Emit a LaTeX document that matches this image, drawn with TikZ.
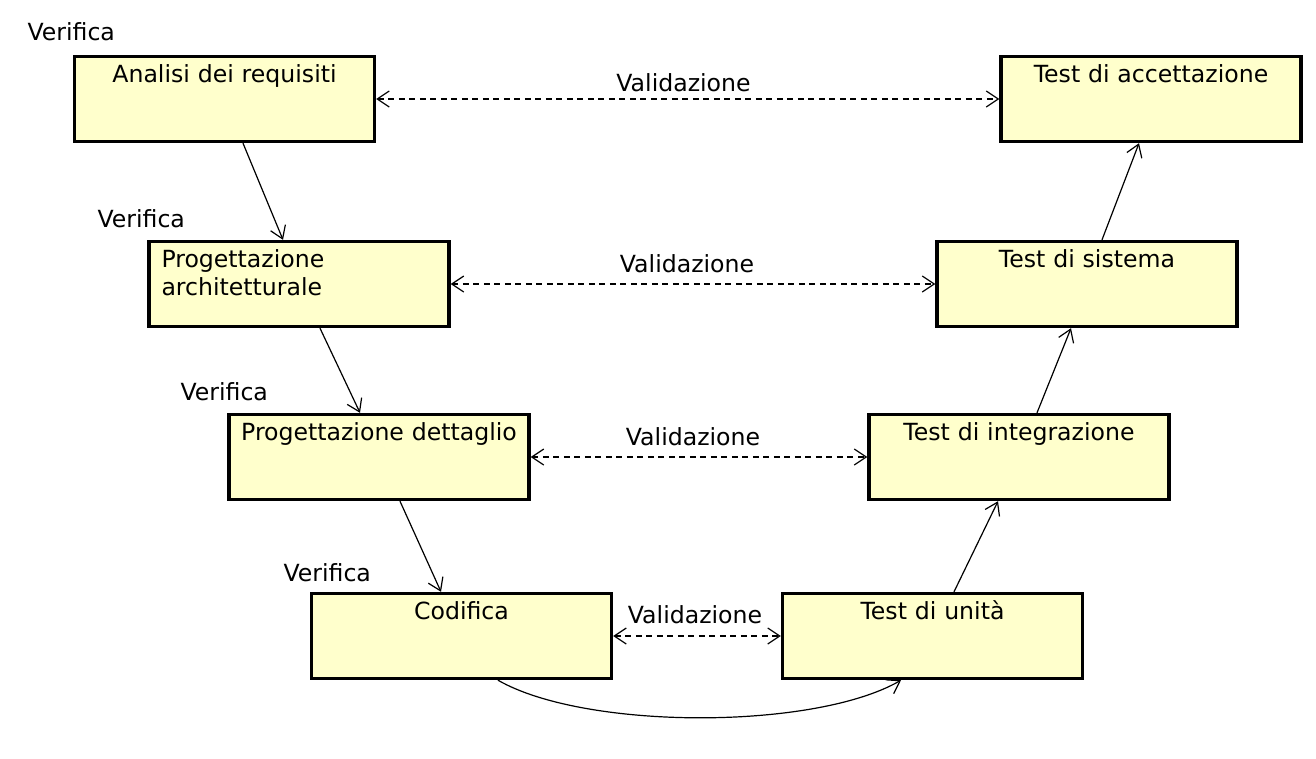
\documentclass[tikz,border=0pt]{standalone}
\usepackage{fontspec}
\setmainfont{DejaVu Sans}
\usetikzlibrary{arrows.meta, positioning}
\definecolor{phaseyellow}{RGB}{255,255,204}
\tikzset{
        flow/.style={-{Straight Barb[length=12pt,width=16pt]}, line width=1.2pt}, % verifica arrows
        valid/.style={{Straight Barb[length=12pt,width=16pt]}-{Straight Barb[length=12pt,width=16pt]},
                      line width=1.2pt, dash pattern=on 6pt off 4.5pt}, % validazione arrows
        vlabel/.style={anchor=base west},
        mlabel/.style={anchor=base},
    }
\tikzstyle{phase}=[draw, line width=3.4pt, fill=phaseyellow, minimum width=300pt, minimum height=85pt,
    inner xsep=5pt, inner ysep=0pt, text width=290pt, text height=26pt, text depth=59pt, align=center]

\begin{document}
\begin{tikzpicture}[x=1pt, y=-1pt, every node/.style={font=\fontsize{23.6pt}{28pt}\selectfont}]
    \useasboundingbox (0,0) rectangle (1316,758);
    % left branch
    \node[phase] (req) at (224.5,99) {Analisi dei requisiti};
    \node[phase, align=left, inner xsep=12.5pt, text width=275pt] (arch) at (299,284) {Progettazione\\architetturale};
    \node[phase] (det) at (379,457) {Progettazione dettaglio};
    \node[phase] (cod) at (461.5,636) {Codifica};
    % right branch
    \node[phase] (acc) at (1151,99) {Test di accettazione};
    \node[phase] (sys) at (1087,284) {Test di sistema};
    \node[phase] (integ) at (1019,457) {Test di integrazione};
    \node[phase] (unit) at (932.5,636) {Test di unità};

    \node[vlabel] (ver1) at (24,40.5) {Verifica};
    \node[vlabel] (ver2) at (94,227.5) {Verifica};
    \node[vlabel] (ver3) at (177,400.5) {Verifica};
    \node[vlabel] (ver4) at (280,581.5) {Verifica};

    \draw[flow] ([xshift=18.5pt]req.south) -- ([xshift=-16pt]arch.north);
    \draw[flow] ([xshift=21pt]arch.south) -- ([xshift=-19pt]det.north);
    \draw[flow] ([xshift=21pt]det.south) -- ([xshift=-20.5pt]cod.north);
    \draw[flow] ([xshift=36.5pt]cod.south) .. controls +(87,50) and +(-87,50) .. ([xshift=-31.5pt]unit.south);
    \draw[flow] ([xshift=21.5pt]unit.north) -- ([xshift=-21pt]integ.south);
    \draw[flow] ([xshift=18pt]integ.north) -- ([xshift=-16pt]sys.south);
    \draw[flow] ([xshift=15pt]sys.north) -- ([xshift=-12pt]acc.south);

    \draw[valid] (req.east) -- (acc.west);
    \draw[valid] (arch.east) -- (sys.west);
    \draw[valid] (det.east) -- (integ.west);
    \draw[valid] (cod.east) -- (unit.west);

    \node[mlabel] (val1) at (683.5,91) {Validazione};
    \node[mlabel] (val2) at (687,272) {Validazione};
    \node[mlabel] (val3) at (693,445) {Validazione};
    \node[mlabel] (val4) at (695,623) {Validazione};
\end{tikzpicture}
\end{document}
